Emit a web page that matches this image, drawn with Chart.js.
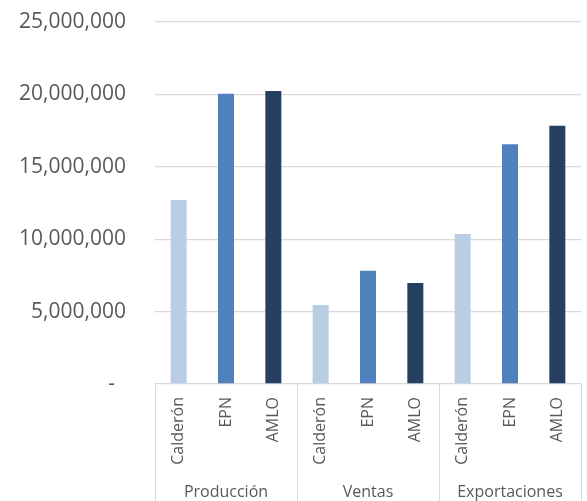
<!DOCTYPE html>
<html>
<head>
<meta charset="utf-8">
<script src="https://cdn.jsdelivr.net/npm/chart.js@4.4.1/dist/chart.umd.min.js"></script>
<style>
  html, body { margin: 0; padding: 0; background: #ffffff; }
  #wrap { width: 587px; height: 501px; position: relative; }
</style>
</head>
<body>
<div id="wrap"><canvas id="c" width="587" height="501"></canvas></div>
<script>
// ---- data ----
const groups = ['Producción', 'Ventas', 'Exportaciones'];
const seriesNames = ['Calderón', 'EPN', 'AMLO'];
const calderon = [12700000, 5450000, 10360000];
const epn      = [20050000, 7820000, 16550000];
const amlo     = [20230000, 6980000, 17840000];
const yTicks   = [0, 5000000, 10000000, 15000000, 20000000, 25000000];

const colors = ['#B9CDE5', '#4F81BD', '#254061'];
const textColor = '#595959';
const lineColor = '#D9D9D9';
const fontFamily = '"Open Sans", "Noto Sans", sans-serif';

const multiLevel = {
  id: 'multiLevel',
  afterDraw(chart) {
    const ctx = chart.ctx;
    const xs = chart.scales.x;
    const area = chart.chartArea;
    const H = chart.height;
    ctx.save();
    // separators
    ctx.strokeStyle = lineColor;
    ctx.lineWidth = 1;
    const n = groups.length;
    for (let i = 0; i <= n; i++) {
      const x = Math.round(xs.left + i * (xs.width / n)) + 0.5;
      ctx.beginPath();
      ctx.moveTo(x, area.bottom);
      ctx.lineTo(x, H);
      ctx.stroke();
    }
    // sub labels
    ctx.fillStyle = textColor;
    ctx.font = '16px ' + fontFamily;
    seriesNames.forEach((name, j) => {
      const meta = chart.getDatasetMeta(j);
      meta.data.forEach((bar) => {
        ctx.save();
        ctx.translate(bar.x, area.bottom + 13);
        ctx.rotate(-Math.PI / 2);
        ctx.textAlign = 'right';
        ctx.textBaseline = 'middle';
        ctx.fillText(name, 0, 0);
        ctx.restore();
      });
    });
    // group labels
    ctx.textAlign = 'center';
    ctx.textBaseline = 'alphabetic';
    groups.forEach((g, i) => {
      const cx = xs.left + (i + 0.5) * (xs.width / n);
      ctx.fillText(g, cx, 497);
    });
    ctx.restore();
  }
};

new Chart(document.getElementById('c'), {
  type: 'bar',
  data: {
    labels: groups,
    datasets: [
      { label: seriesNames[0], data: calderon, backgroundColor: colors[0] },
      { label: seriesNames[1], data: epn, backgroundColor: colors[1] },
      { label: seriesNames[2], data: amlo, backgroundColor: colors[2] }
    ]
  },
  options: {
    responsive: false,
    animation: false,
    devicePixelRatio: 1,
    categoryPercentage: 1.0,
    barPercentage: 0.338,
    layout: { padding: { top: 22, right: 6, bottom: 117, left: 0 } },
    plugins: {
      legend: { display: false },
      title: { display: false },
      tooltip: { enabled: false }
    },
    scales: {
      x: {
        display: false
      },
      y: {
        min: 0,
        max: 25000000,
        afterBuildTicks(scale) {
          scale.ticks = yTicks.map(v => ({ value: v }));
        },
        afterFit(scale) {
          scale.width = 155;
          scale.paddingTop = 0;
          scale.paddingBottom = 0;
        },
        grid: { color: lineColor, lineWidth: 1.3, drawTicks: false },
        border: { display: false },
        ticks: {
          padding: 29,
          color: textColor,
          font: { family: fontFamily, size: 21 },
          callback(v) {
            return v === 0 ? '-  ' : Number(v).toLocaleString('en-US');
          }
        }
      }
    }
  },
  plugins: [multiLevel]
});
</script>
</body>
</html>
